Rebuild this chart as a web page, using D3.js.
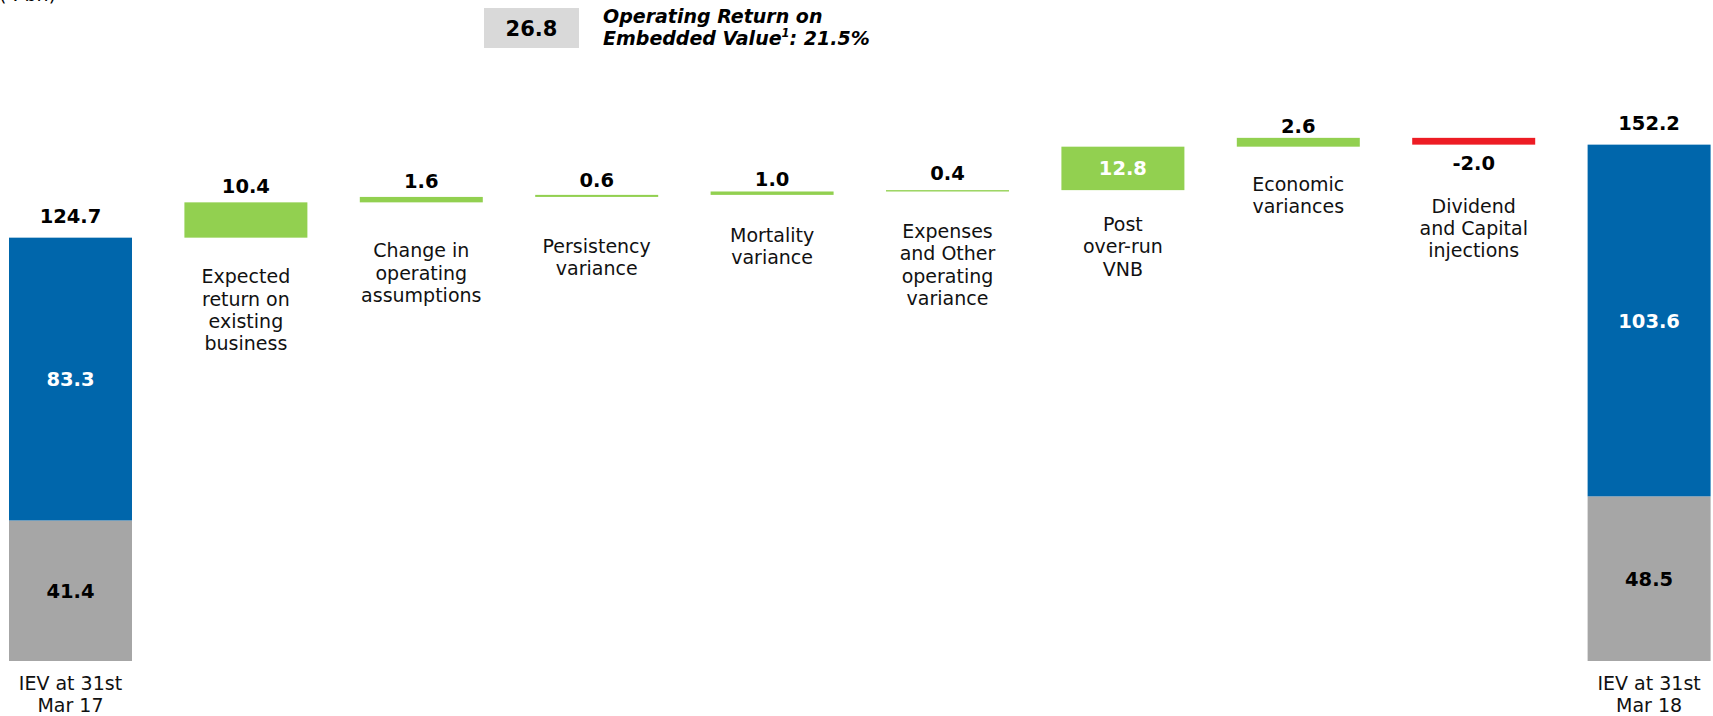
<!DOCTYPE html>
<html>
<head>
<meta charset="utf-8">
<script src="https://cdn.jsdelivr.net/npm/d3@7"></script>
<style>
  html, body { margin: 0; padding: 0; background: #fff; }
  svg { display: block; }
  text { font-family: "DejaVu Sans", Verdana, sans-serif; }
</style>
</head>
<body>
<svg id="chart" width="1713" height="716"></svg>
<script>
// ---- data (₹ bn) ----
const categories = [
  "IEV at 31st\nMar 17",
  "Expected\nreturn on\nexisting\nbusiness",
  "Change in\noperating\nassumptions",
  "Persistency\nvariance",
  "Mortality\nvariance",
  "Expenses\nand Other\noperating\nvariance",
  "Post\nover-run\nVNB",
  "Economic\nvariances",
  "Dividend\nand Capital\ninjections",
  "IEV at 31st\nMar 18"
];
const netWorth = [41.4, 48.5];      // opening, closing
const valueInForce = [83.3, 103.6]; // opening, closing
const totals = [124.7, 152.2];      // opening, closing
const movements = [10.4, 1.6, 0.6, 1.0, 0.4, 12.8, 2.6, -2.0];
const operatingReturn = 26.8;
const operatingRoev = "21.5%";

// ---- layout ----
const labelGap = [29, 45.6, 55, 56, 47, 46.6, 41, 44.3, 68, 29];   // first text baseline below bar bottom
const valueGap = [15, 9.7, 9.3, 8, 5, 9.7, 0, 4.7, 25, 14];         // value baseline offset from bar edge
const lineH = 22.3;
const colors = { vif: "#0066AB", nw: "#A6A6A6", up: "#92D050", down: "#ED1C24", box: "#D9D9D9" };

const svg = d3.select("#chart");

const x = d3.scaleBand()
  .domain(categories)
  .range([9, 1710.6])
  .paddingInner(0.2988)
  .paddingOuter(0);

const y = d3.scaleLinear()
  .domain([0, d3.max(totals)])
  .range([661, 144.3]);

// Build waterfall rows
const rows = [];
rows.push({ cat: categories[0], kind: "total", nw: netWorth[0], vif: valueInForce[0], total: totals[0] });
let running = totals[0];
movements.forEach((m, i) => {
  const start = running, end = running + m;
  rows.push({ cat: categories[i + 1], kind: "move", value: m, lo: Math.min(start, end), hi: Math.max(start, end) });
  running = end;
});
rows.push({ cat: categories[categories.length - 1], kind: "total", nw: netWorth[1], vif: valueInForce[1], total: totals[1] });

const fmt = v => d3.format(".1f")(v).replace("\u2212", "-");

// Units note at the top-left
svg.append("text")
  .attr("x", -1).attr("y", 1)
  .attr("font-size", 19)
  .text("(₹ bn)");

rows.forEach((r, i) => {
  const bx = x(r.cat), bw = x.bandwidth(), cx = bx + bw / 2;
  const g = svg.append("g");
  let bottom;
  if (r.kind === "total") {
    // net worth (grey) at base, VIF (blue) stacked on top
    g.append("rect")
      .attr("x", bx).attr("width", bw)
      .attr("y", y(r.nw)).attr("height", y(0) - y(r.nw))
      .attr("fill", colors.nw);
    g.append("rect")
      .attr("x", bx).attr("width", bw)
      .attr("y", y(r.nw + r.vif)).attr("height", y(r.nw) - y(r.nw + r.vif))
      .attr("fill", colors.vif);
    // segment labels
    g.append("text")
      .attr("x", cx).attr("y", (y(0) + y(r.nw)) / 2)
      .attr("dy", "0.36em").attr("text-anchor", "middle")
      .attr("font-size", 19.5).attr("font-weight", "bold").attr("fill", "#000")
      .text(fmt(r.nw));
    g.append("text")
      .attr("x", cx).attr("y", (y(r.nw) + y(r.nw + r.vif)) / 2)
      .attr("dy", "0.36em").attr("text-anchor", "middle")
      .attr("font-size", 19.5).attr("font-weight", "bold").attr("fill", "#fff")
      .text(fmt(r.vif));
    // total on top
    g.append("text")
      .attr("x", cx).attr("y", y(r.total) - valueGap[i])
      .attr("text-anchor", "middle")
      .attr("font-size", 19.5).attr("font-weight", "bold")
      .text(fmt(r.total));
    bottom = y(0);
  } else {
    const top = y(r.hi), bot = y(r.lo);
    g.append("rect")
      .attr("x", bx).attr("width", bw)
      .attr("y", top).attr("height", bot - top)
      .attr("fill", r.value >= 0 ? colors.up : colors.down);
    const inside = (bot - top) > 40;
    const label = g.append("text")
      .attr("x", cx)
      .attr("text-anchor", "middle")
      .attr("font-size", 19.5).attr("font-weight", "bold")
      .text(fmt(r.value));
    if (inside) {
      label.attr("y", (top + bot) / 2).attr("dy", "0.36em").attr("fill", "#fff");
    } else if (r.value < 0) {
      label.attr("y", bot + valueGap[i]);
    } else {
      label.attr("y", top - valueGap[i]);
    }
    bottom = bot;
  }
  // category label
  const t = svg.append("text")
    .attr("text-anchor", "middle")
    .attr("font-size", 19)
    .attr("fill", "#111");
  r.cat.split("\n").forEach((line, k) => {
    t.append("tspan")
      .attr("x", cx)
      .attr("y", bottom + labelGap[i] + k * lineH)
      .text(line);
  });
});

// Operating return call-out
const box = svg.append("g");
box.append("rect")
  .attr("x", 484).attr("y", 8).attr("width", 95).attr("height", 40)
  .attr("fill", colors.box);
box.append("text")
  .attr("x", 531.5).attr("y", 28).attr("dy", "0.36em")
  .attr("text-anchor", "middle")
  .attr("font-size", 21).attr("font-weight", "bold")
  .text(fmt(operatingReturn));
const note = box.append("text")
  .attr("font-size", 19).attr("font-weight", "bold").attr("font-style", "italic");
note.append("tspan").attr("x", 603).attr("y", 23).text("Operating Return on");
const l2 = note.append("tspan").attr("x", 603).attr("y", 44.5);
l2.append("tspan").text("Embedded Value");
l2.append("tspan").attr("font-size", 11.5).attr("dy", -7.5).text("1");
l2.append("tspan").attr("dy", 7.5).text(": " + operatingRoev);
</script>
</body>
</html>
